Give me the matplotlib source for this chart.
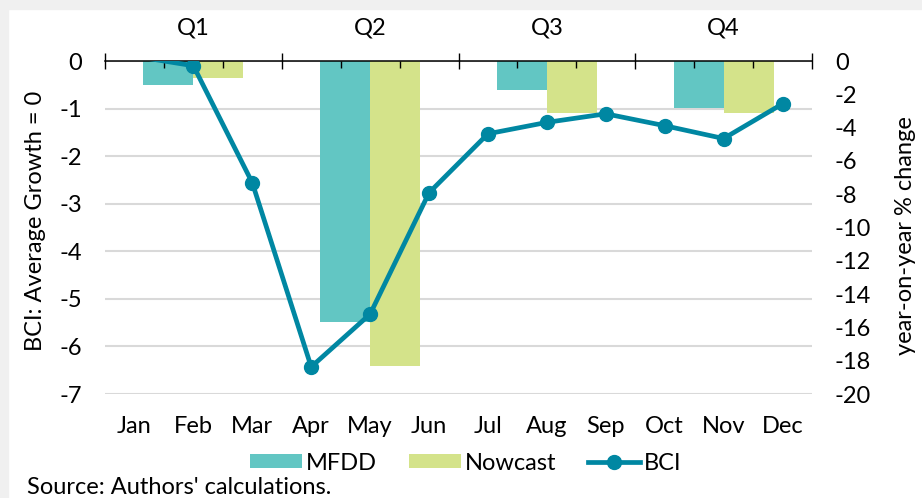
import matplotlib
matplotlib.use("Agg")
import matplotlib.pyplot as plt
from matplotlib.patches import Rectangle, Patch
from matplotlib.lines import Line2D
import matplotlib.transforms as mtransforms

months = ["Jan", "Feb", "Mar", "Apr", "May", "Jun", "Jul", "Aug", "Sep", "Oct", "Nov", "Dec"]
quarters = ["Q1", "Q2", "Q3", "Q4"]
bci = [0.1, -0.10, -2.56, -6.43, -5.32, -2.77, -1.53, -1.29, -1.11, -1.36, -1.63, -0.90]
mfdd = [-1.45, -15.7, -1.73, -2.8]
nowcast = [-1.0, -18.3, -3.1, -3.1]
left_ticks = [0, -1, -2, -3, -4, -5, -6, -7]
right_ticks = [0, -2, -4, -6, -8, -10, -12, -14, -16, -18, -20]

C_MFDD = "#62C6C3"
C_NOW = "#D4E38A"
C_BCI = "#0087A2"
C_GRID = "#D9D9D9"

plt.rcParams['font.family'] = ['Lato', 'DejaVu Sans']
FS = 17
plt.rcParams['font.size'] = FS

W, H = 922, 498
fig = plt.figure(figsize=(W / 100, H / 100), dpi=100)
fig.patches.append(Rectangle((0, 0), 8 / W, 1, transform=fig.transFigure,
                             color="#F0F0F0", zorder=0))
fig.patches.append(Rectangle((0, 1 - 9 / H), 1, 9 / H, transform=fig.transFigure,
                             color="#F0F0F0", zorder=0))

pos = [105 / W, 1 - 394 / H, 707 / W, 333 / H]
ax = fig.add_axes(pos)
ax.set_xlim(0, 12)
ax.set_ylim(-7, 0)
for s in ax.spines.values():
    s.set_visible(False)
ax.set_yticks(left_ticks, [str(v) for v in left_ticks])
ax.yaxis.grid(True, color=C_GRID, lw=1.5)
ax.set_axisbelow(True)
ax.tick_params(axis='y', length=0, pad=16.5, labelsize=FS)
month_pos = [i + 0.5 for i in range(len(months))]
ax.set_xticks(month_pos, months)
ax.tick_params(axis='x', length=0, pad=16, labelsize=FS)
ax.set_ylabel("BCI: Average Growth = 0", fontsize=FS)
ax.yaxis.set_label_coords(-0.083, 0.52)

ax2 = ax.twinx()
ax2.set_ylim(-20, 0)
for s in ax2.spines.values():
    s.set_visible(False)
ax2.set_yticks(right_ticks, [str(v) for v in right_ticks])
ax2.tick_params(axis='y', length=0, pad=16.5, labelsize=FS)
ax2.set_ylabel("year-on-year % change", fontsize=FS)
ax2.yaxis.set_label_coords(1.117, 0.475)
q_pos = [q * 3 + 1.5 for q in range(len(quarters))]
ax2.bar(q_pos, mfdd, width=-0.85, align='edge', color=C_MFDD, zorder=2)
ax2.bar(q_pos, nowcast, width=0.85, align='edge', color=C_NOW, zorder=2)

ax3 = fig.add_axes(pos)
ax3.set_xlim(0, 12)
ax3.set_ylim(-7, 0)
ax3.patch.set_visible(False)
for k, s in ax3.spines.items():
    s.set_visible(k == 'top')
ax3.spines['top'].set_linewidth(1.1)
ax3.spines['top'].set_color('black')
ax3.xaxis.set_ticks_position('top')
ax3.set_xticks([0, 3, 6, 9, 12])
ax3.set_xticks([1, 2, 4, 5, 7, 8, 10, 11], minor=True)
ax3.tick_params(axis='x', which='major', direction='inout', length=11.5, width=1,
                labeltop=False, labelbottom=False)
ax3.tick_params(axis='x', which='minor', direction='in', length=5, width=1,
                labeltop=False, labelbottom=False)
ax3.set_yticks([])
ax3.plot(month_pos, bci, color=C_BCI, lw=3.4, marker='o', ms=10,
         markevery=list(range(1, 12)), zorder=3)

trans = mtransforms.blended_transform_factory(ax.transData, ax.transAxes)
for x, q in zip(q_pos, quarters):
    ax.text(x, 1 + 33 / 333, q, transform=trans, ha='center', va='center', fontsize=FS)

handles = [Patch(facecolor=C_MFDD, label="MFDD"),
           Patch(facecolor=C_NOW, label="Nowcast"),
           Line2D([], [], color=C_BCI, lw=3.4, marker='o', ms=10, label="BCI")]
fig.legend(handles=handles, loc='center', bbox_to_anchor=(466 / W, 1 - 463 / H),
           ncol=3, frameon=False, fontsize=FS, handlelength=2.2, handletextpad=0.17,
           columnspacing=1.35, handleheight=0.55)

fig.text(27 / W, 1 - 487 / H, "Source: Authors' calculations.", ha='left', va='center',
         fontsize=FS)

fig.savefig("out.png", dpi=100)
